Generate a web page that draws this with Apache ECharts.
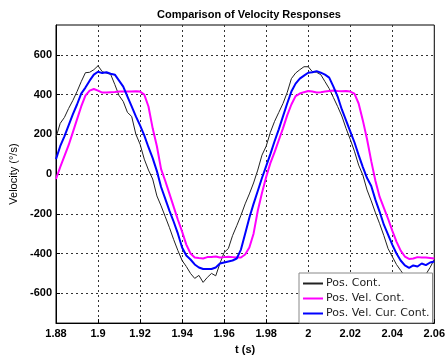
<!DOCTYPE html>
<html>
<head>
<meta charset="utf-8">
<script src="https://cdn.jsdelivr.net/npm/echarts@6/dist/echarts.min.js"></script>
<style>
  html, body { margin: 0; padding: 0; background: #fff; }
  #chart { width: 448px; height: 360px; }
</style>
</head>
<body>
<div id="chart"></div>
<script>
// time samples (s)
var times = [
  1.880, 1.882, 1.884, 1.886, 1.888, 1.890, 1.892, 1.894, 1.896, 1.898,
  1.900, 1.902, 1.904, 1.906, 1.908, 1.910, 1.912, 1.914, 1.916, 1.918,
  1.920, 1.922, 1.924, 1.926, 1.928, 1.930, 1.932, 1.934, 1.936, 1.938,
  1.940, 1.942, 1.944, 1.946, 1.948, 1.950, 1.952, 1.954, 1.956, 1.958,
  1.960, 1.962, 1.964, 1.966, 1.968, 1.970, 1.972, 1.974, 1.976, 1.978,
  1.980, 1.982, 1.984, 1.986, 1.988, 1.990, 1.992, 1.994, 1.996, 1.998,
  2.000, 2.002, 2.004, 2.006, 2.008, 2.010, 2.012, 2.014, 2.016, 2.018,
  2.020, 2.022, 2.024, 2.026, 2.028, 2.030, 2.032, 2.034, 2.036, 2.038,
  2.040, 2.042, 2.044, 2.046, 2.048, 2.050, 2.052, 2.054, 2.056, 2.058,
  2.060
];

// Pos. Cont.
var posCont = [
  185, 255, 285, 330, 370, 415, 465, 510, 512, 525,
  545, 515, 508, 502, 450, 395, 365, 310, 290, 200,
  150, 75, 20, -25, -110, -160, -215, -270, -330, -385,
  -435, -465, -500, -525, -510, -545, -520, -500, -512, -450,
  -395, -375, -310, -260, -208, -150, -100, -45, 20, 95,
  140, 210, 265, 310, 355, 410, 480, 508, 525, 540,
  540, 515, 512, 500, 465, 430, 385, 340, 292, 230,
  175, 115, 45, -5, -80, -135, -195, -250, -310, -375,
  -415, -455, -485, -515, -505, -540, -515, -500, -505, -470,
  -430
];

// Pos. Vel. Cont.
var posVelCont = [
  -25, 35, 90, 145, 210, 275, 340, 395, 420, 428,
  420, 410, 410, 412, 413, 415, 415, 416, 415, 417,
  415, 400, 340, 230, 140, 25, -35, -100, -165, -230,
  -290, -355, -400, -420, -423, -425, -418, -417, -415, -420,
  -418, -416, -418, -420, -420, -405, -370, -300, -185, -95,
  -15, 55, 110, 170, 230, 295, 350, 392, 405, 412,
  418, 415, 410, 412, 415, 418, 420, 418, 417, 418,
  415, 405, 355, 270, 175, 65, -35, -115, -170, -225,
  -285, -340, -385, -415, -427, -425, -418, -420, -420, -422,
  -425
];

// Pos. Vel. Cur. Cont.
var posVelCurCont = [
  75, 140, 190, 245, 300, 350, 405, 435, 470, 500,
  515, 508, 512, 505, 500, 470, 440, 390, 340, 290,
  245, 195, 135, 80, 15, -65, -125, -185, -240, -300,
  -370, -410, -430, -455, -470, -478, -478, -478, -470, -450,
  -445, -440, -435, -425, -380, -300, -220, -150, -85, -20,
  40, 100, 165, 225, 290, 355, 415, 455, 480, 495,
  510, 512, 518, 510, 500, 485, 440, 390, 325, 270,
  215, 160, 95, 35, -20, -60, -130, -190, -255, -305,
  -355, -400, -435, -460, -472, -460, -465, -450, -458, -445,
  -440
];

var seriesNames = ['Pos. Cont.', 'Pos. Vel. Cont.', 'Pos. Vel. Cur. Cont.'];
var yTicks = [-600, -400, -200, 0, 200, 400, 600];

function pairs(vals) {
  return times.map(function (t, i) { return [t, vals[i]]; });
}

var chart = echarts.init(document.getElementById('chart'));
var tickFont = { fontFamily: 'Liberation Sans Narrow, Liberation Sans, Arial', fontWeight: 'bold', fontSize: 11, color: '#000' };

var option = {
  animation: false,
  backgroundColor: '#fff',
  title: {
    text: 'Comparison of Velocity Responses',
    left: 152,
    top: 4,
    textStyle: { fontFamily: 'Liberation Sans Narrow, Liberation Sans, Arial', fontWeight: 'bold', fontSize: 11, color: '#000' }
  },
  legend: {
    orient: 'vertical',
    left: 299,
    top: 273,
    padding: [5, 3, 4, 4],
    itemGap: 4,
    itemWidth: 20,
    itemHeight: 2,
    icon: 'rect',
    backgroundColor: '#fff',
    borderColor: '#888',
    borderWidth: 1,
    textStyle: { fontFamily: 'DejaVu Sans', fontSize: 11, color: '#222', padding: [0, 0, 0, -2] },
    data: seriesNames
  },
  grid: { left: 56, right: 12, top: 25, bottom: 35, show: true, borderColor: '#000', borderWidth: 1 },
  xAxis: {
    type: 'value',
    min: 1.88,
    max: 2.06,
    interval: 0.02,
    name: 't (s)',
    nameLocation: 'middle',
    nameGap: 20,
    nameTextStyle: tickFont,
    axisLine: { onZero: false, lineStyle: { color: '#000' } },
    axisTick: { inside: true, length: 4, lineStyle: { color: '#000' } },
    axisLabel: Object.assign({ margin: 5, formatter: function (v) { return String(parseFloat(v.toFixed(2))); } }, tickFont),
    splitLine: { show: true, lineStyle: { color: '#333', type: [2, 3], width: 1 } }
  },
  yAxis: {
    type: 'value',
    min: -750,
    max: 750,
    name: 'Velocity (°/s)',
    nameLocation: 'middle',
    nameGap: 36,
    nameTextStyle: { fontFamily: 'Liberation Sans', fontSize: 11, color: '#000' },
    axisLine: { lineStyle: { color: '#000' } },
    axisTick: { inside: true, length: 4, customValues: yTicks, lineStyle: { color: '#000' } },
    axisLabel: Object.assign({ margin: 4, customValues: yTicks }, tickFont),
    splitLine: { show: true, lineStyle: { color: '#333', type: [2, 3], width: 1 } }
  },
  series: [
    {
      name: seriesNames[0], type: 'line', showSymbol: false,
      data: pairs(posCont),
      lineStyle: { color: '#222', width: 1 }, itemStyle: { color: '#222' }
    },
    {
      name: seriesNames[1], type: 'line', showSymbol: false,
      data: pairs(posVelCont),
      lineStyle: { color: '#ff00ff', width: 2 }, itemStyle: { color: '#ff00ff' }
    },
    {
      name: seriesNames[2], type: 'line', showSymbol: false,
      data: pairs(posVelCurCont),
      lineStyle: { color: '#0000ff', width: 2 }, itemStyle: { color: '#0000ff' }
    }
  ]
};

chart.setOption(option);
</script>
</body>
</html>
